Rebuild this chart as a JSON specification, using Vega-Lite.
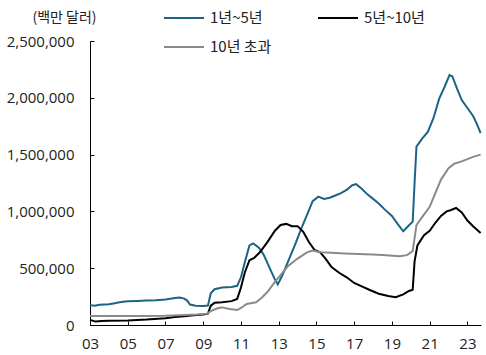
{
  "$schema": "https://vega.github.io/schema/vega-lite/v6.json",
  "width": 391,
  "height": 284,
  "autosize": "none",
  "padding": {"left": 90, "top": 41, "right": 5, "bottom": 30},
  "config": {
    "view": {"stroke": null},
    "font": "Noto Sans CJK KR",
    "axis": {"labelFont": "Open Sans", "titleFont": "Noto Sans CJK KR", "labelColor": "#222", "titleColor": "#222", "domainColor": "#000", "tickColor": "#000", "grid": false},
    "legend": {"labelFont": "Noto Sans CJK KR"}
  },
  "data": {"values": [
    {"s":"1년~5년","year":2003.0,"v":175000},
    {"s":"1년~5년","year":2003.25,"v":170000},
    {"s":"1년~5년","year":2003.5,"v":178000},
    {"s":"1년~5년","year":2003.75,"v":180000},
    {"s":"1년~5년","year":2004.0,"v":182000},
    {"s":"1년~5년","year":2004.25,"v":190000},
    {"s":"1년~5년","year":2004.5,"v":198000},
    {"s":"1년~5년","year":2004.75,"v":205000},
    {"s":"1년~5년","year":2005.0,"v":210000},
    {"s":"1년~5년","year":2005.5,"v":212000},
    {"s":"1년~5년","year":2006.0,"v":215000},
    {"s":"1년~5년","year":2006.5,"v":218000},
    {"s":"1년~5년","year":2007.0,"v":225000},
    {"s":"1년~5년","year":2007.5,"v":238000},
    {"s":"1년~5년","year":2007.75,"v":242000},
    {"s":"1년~5년","year":2008.0,"v":232000},
    {"s":"1년~5년","year":2008.15,"v":215000},
    {"s":"1년~5년","year":2008.3,"v":180000},
    {"s":"1년~5년","year":2008.6,"v":170000},
    {"s":"1년~5년","year":2009.0,"v":168000},
    {"s":"1년~5년","year":2009.25,"v":172000},
    {"s":"1년~5년","year":2009.4,"v":280000},
    {"s":"1년~5년","year":2009.6,"v":315000},
    {"s":"1년~5년","year":2010.0,"v":330000},
    {"s":"1년~5년","year":2010.5,"v":335000},
    {"s":"1년~5년","year":2010.8,"v":345000},
    {"s":"1년~5년","year":2011.0,"v":420000},
    {"s":"1년~5년","year":2011.2,"v":550000},
    {"s":"1년~5년","year":2011.45,"v":700000},
    {"s":"1년~5년","year":2011.65,"v":718000},
    {"s":"1년~5년","year":2011.95,"v":680000},
    {"s":"1년~5년","year":2012.2,"v":620000},
    {"s":"1년~5년","year":2012.5,"v":510000},
    {"s":"1년~5년","year":2012.8,"v":400000},
    {"s":"1년~5년","year":2012.95,"v":358000},
    {"s":"1년~5년","year":2013.2,"v":440000},
    {"s":"1년~5년","year":2013.5,"v":560000},
    {"s":"1년~5년","year":2013.9,"v":720000},
    {"s":"1년~5년","year":2014.2,"v":850000},
    {"s":"1년~5년","year":2014.5,"v":970000},
    {"s":"1년~5년","year":2014.8,"v":1090000},
    {"s":"1년~5년","year":2015.1,"v":1130000},
    {"s":"1년~5년","year":2015.4,"v":1110000},
    {"s":"1년~5년","year":2015.7,"v":1120000},
    {"s":"1년~5년","year":2016.0,"v":1140000},
    {"s":"1년~5년","year":2016.3,"v":1160000},
    {"s":"1년~5년","year":2016.6,"v":1190000},
    {"s":"1년~5년","year":2016.9,"v":1230000},
    {"s":"1년~5년","year":2017.1,"v":1240000},
    {"s":"1년~5년","year":2017.4,"v":1200000},
    {"s":"1년~5년","year":2017.7,"v":1150000},
    {"s":"1년~5년","year":2018.0,"v":1110000},
    {"s":"1년~5년","year":2018.3,"v":1070000},
    {"s":"1년~5년","year":2018.6,"v":1020000},
    {"s":"1년~5년","year":2019.0,"v":960000},
    {"s":"1년~5년","year":2019.3,"v":890000},
    {"s":"1년~5년","year":2019.6,"v":825000},
    {"s":"1년~5년","year":2019.8,"v":860000},
    {"s":"1년~5년","year":2020.1,"v":910000},
    {"s":"1년~5년","year":2020.2,"v":1250000},
    {"s":"1년~5년","year":2020.3,"v":1570000},
    {"s":"1년~5년","year":2020.6,"v":1640000},
    {"s":"1년~5년","year":2020.9,"v":1700000},
    {"s":"1년~5년","year":2021.2,"v":1820000},
    {"s":"1년~5년","year":2021.5,"v":1990000},
    {"s":"1년~5년","year":2021.8,"v":2100000},
    {"s":"1년~5년","year":2022.05,"v":2200000},
    {"s":"1년~5년","year":2022.2,"v":2190000},
    {"s":"1년~5년","year":2022.45,"v":2080000},
    {"s":"1년~5년","year":2022.7,"v":1980000},
    {"s":"1년~5년","year":2023.0,"v":1910000},
    {"s":"1년~5년","year":2023.3,"v":1840000},
    {"s":"1년~5년","year":2023.5,"v":1770000},
    {"s":"1년~5년","year":2023.7,"v":1690000},
    {"s":"5년~10년","year":2003.0,"v":45000},
    {"s":"5년~10년","year":2003.3,"v":30000},
    {"s":"5년~10년","year":2003.6,"v":35000},
    {"s":"5년~10년","year":2004.0,"v":38000},
    {"s":"5년~10년","year":2005.0,"v":40000},
    {"s":"5년~10년","year":2006.0,"v":48000},
    {"s":"5년~10년","year":2007.0,"v":60000},
    {"s":"5년~10년","year":2007.5,"v":70000},
    {"s":"5년~10년","year":2008.0,"v":78000},
    {"s":"5년~10년","year":2008.5,"v":85000},
    {"s":"5년~10년","year":2009.0,"v":92000},
    {"s":"5년~10년","year":2009.25,"v":100000},
    {"s":"5년~10년","year":2009.4,"v":170000},
    {"s":"5년~10년","year":2009.6,"v":195000},
    {"s":"5년~10년","year":2010.0,"v":200000},
    {"s":"5년~10년","year":2010.5,"v":210000},
    {"s":"5년~10년","year":2010.8,"v":230000},
    {"s":"5년~10년","year":2011.0,"v":330000},
    {"s":"5년~10년","year":2011.2,"v":460000},
    {"s":"5년~10년","year":2011.45,"v":570000},
    {"s":"5년~10년","year":2011.7,"v":590000},
    {"s":"5년~10년","year":2012.0,"v":640000},
    {"s":"5년~10년","year":2012.4,"v":730000},
    {"s":"5년~10년","year":2012.8,"v":830000},
    {"s":"5년~10년","year":2013.1,"v":880000},
    {"s":"5년~10년","year":2013.4,"v":890000},
    {"s":"5년~10년","year":2013.7,"v":870000},
    {"s":"5년~10년","year":2014.0,"v":870000},
    {"s":"5년~10년","year":2014.3,"v":820000},
    {"s":"5년~10년","year":2014.6,"v":730000},
    {"s":"5년~10년","year":2014.9,"v":660000},
    {"s":"5년~10년","year":2015.2,"v":640000},
    {"s":"5년~10년","year":2015.5,"v":580000},
    {"s":"5년~10년","year":2015.8,"v":510000},
    {"s":"5년~10년","year":2016.2,"v":460000},
    {"s":"5년~10년","year":2016.6,"v":420000},
    {"s":"5년~10년","year":2017.0,"v":370000},
    {"s":"5년~10년","year":2017.4,"v":340000},
    {"s":"5년~10년","year":2017.8,"v":310000},
    {"s":"5년~10년","year":2018.3,"v":275000},
    {"s":"5년~10년","year":2018.8,"v":255000},
    {"s":"5년~10년","year":2019.2,"v":245000},
    {"s":"5년~10년","year":2019.6,"v":270000},
    {"s":"5년~10년","year":2019.9,"v":300000},
    {"s":"5년~10년","year":2020.1,"v":310000},
    {"s":"5년~10년","year":2020.2,"v":560000},
    {"s":"5년~10년","year":2020.35,"v":700000},
    {"s":"5년~10년","year":2020.7,"v":790000},
    {"s":"5년~10년","year":2021.0,"v":830000},
    {"s":"5년~10년","year":2021.3,"v":900000},
    {"s":"5년~10년","year":2021.6,"v":960000},
    {"s":"5년~10년","year":2021.9,"v":1000000},
    {"s":"5년~10년","year":2022.1,"v":1010000},
    {"s":"5년~10년","year":2022.4,"v":1030000},
    {"s":"5년~10년","year":2022.7,"v":990000},
    {"s":"5년~10년","year":2023.0,"v":920000},
    {"s":"5년~10년","year":2023.3,"v":870000},
    {"s":"5년~10년","year":2023.7,"v":810000},
    {"s":"10년 초과","year":2003.0,"v":80000},
    {"s":"10년 초과","year":2004.0,"v":80000},
    {"s":"10년 초과","year":2005.0,"v":80000},
    {"s":"10년 초과","year":2006.0,"v":80000},
    {"s":"10년 초과","year":2007.0,"v":82000},
    {"s":"10년 초과","year":2008.0,"v":88000},
    {"s":"10년 초과","year":2008.7,"v":92000},
    {"s":"10년 초과","year":2009.2,"v":100000},
    {"s":"10년 초과","year":2009.5,"v":130000},
    {"s":"10년 초과","year":2009.8,"v":150000},
    {"s":"10년 초과","year":2010.0,"v":155000},
    {"s":"10년 초과","year":2010.4,"v":140000},
    {"s":"10년 초과","year":2010.8,"v":132000},
    {"s":"10년 초과","year":2011.0,"v":150000},
    {"s":"10년 초과","year":2011.3,"v":185000},
    {"s":"10년 초과","year":2011.8,"v":200000},
    {"s":"10년 초과","year":2012.1,"v":240000},
    {"s":"10년 초과","year":2012.4,"v":290000},
    {"s":"10년 초과","year":2012.8,"v":380000},
    {"s":"10년 초과","year":2013.1,"v":440000},
    {"s":"10년 초과","year":2013.5,"v":520000},
    {"s":"10년 초과","year":2014.0,"v":585000},
    {"s":"10년 초과","year":2014.5,"v":640000},
    {"s":"10년 초과","year":2014.8,"v":655000},
    {"s":"10년 초과","year":2015.2,"v":640000},
    {"s":"10년 초과","year":2015.8,"v":635000},
    {"s":"10년 초과","year":2016.5,"v":630000},
    {"s":"10년 초과","year":2017.2,"v":625000},
    {"s":"10년 초과","year":2018.0,"v":620000},
    {"s":"10년 초과","year":2018.7,"v":615000},
    {"s":"10년 초과","year":2019.4,"v":605000},
    {"s":"10년 초과","year":2019.8,"v":615000},
    {"s":"10년 초과","year":2020.1,"v":650000},
    {"s":"10년 초과","year":2020.3,"v":880000},
    {"s":"10년 초과","year":2020.6,"v":950000},
    {"s":"10년 초과","year":2021.0,"v":1040000},
    {"s":"10년 초과","year":2021.3,"v":1160000},
    {"s":"10년 초과","year":2021.6,"v":1280000},
    {"s":"10년 초과","year":2022.0,"v":1380000},
    {"s":"10년 초과","year":2022.3,"v":1420000},
    {"s":"10년 초과","year":2022.7,"v":1440000},
    {"s":"10년 초과","year":2023.0,"v":1460000},
    {"s":"10년 초과","year":2023.3,"v":1480000},
    {"s":"10년 초과","year":2023.7,"v":1500000}
  ]},
  "mark": {"type": "line", "strokeWidth": 2},
  "encoding": {
    "x": {
      "field": "year", "type": "quantitative",
      "scale": {"domain": [2003, 2023.72], "nice": false, "zero": false},
      "axis": {
        "title": null,
        "values": [2003, 2005, 2007, 2009, 2011, 2013, 2015, 2017, 2019, 2021, 2023],
        "labelExpr": "substring(toString(datum.value), 2)",
        "labelFlush": false,
        "labelFontSize": 15,
        "tickSize": -4,
        "labelPadding": 15
      }
    },
    "y": {
      "field": "v", "type": "quantitative",
      "scale": {"domain": [0, 2500000], "nice": false},
      "axis": {
        "title": "(백만 달러)",
        "titleAngle": 0,
        "titleX": -26,
        "titleY": -24,
        "titleAlign": "center",
        "titleBaseline": "middle",
        "titleFontSize": 14,
        "titleFontWeight": "normal",
        "values": [0, 500000, 1000000, 1500000, 2000000, 2500000],
        "format": ",d",
        "labelFontSize": 15,
        "tickSize": -4,
        "labelPadding": 20
      }
    },
    "color": {
      "field": "s", "type": "nominal",
      "scale": {"domain": ["1년~5년", "5년~10년", "10년 초과"], "range": ["#1d6384", "#000000", "#8a8a8a"]},
      "legend": {
        "title": null,
        "values": ["1년~5년", "5년~10년", "10년 초과"],
        "orient": "none",
        "direction": "horizontal",
        "legendX": 73,
        "legendY": -44,
        "columns": 2,
        "symbolType": "stroke",
        "symbolSize": 1600,
        "symbolStrokeWidth": 2,
        "labelFontSize": 15,
        "labelColor": "#222",
        "labelOffset": 5,
        "columnPadding": 42,
        "rowPadding": -7
      }
    }
  }
}
